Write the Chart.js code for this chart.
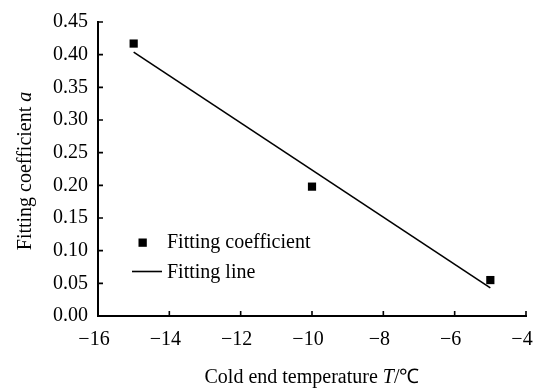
<!DOCTYPE html>
<html>
<head>
<meta charset="utf-8">
<script src="https://cdn.jsdelivr.net/npm/chart.js@4.4.1/dist/chart.umd.min.js"></script>
<style>
  html,body{margin:0;padding:0;background:#fff;}
  #wrap{width:535px;height:389px;}
</style>
</head>
<body>
<div id="wrap"><canvas id="c"></canvas></div>
<script>
// measured coefficient a at each cold end temperature
const temps = [-15, -10, -5];
const coefA = [0.417, 0.198, 0.055];
// least-squares line, endpoints
const fitX = [-15, -5];
const fitY = [0.404, 0.043];

const xTicks = [-16, -14, -12, -10, -8, -6, -4];
const yTicks = [0, 0.05, 0.10, 0.15, 0.20, 0.25, 0.30, 0.35, 0.40, 0.45];

const FONT = '"Liberation Serif","Times New Roman",serif';
const FS = 20;
const minus = s => String(s).replace('-', '\u2212');

// short tick marks pointing into the plot
const innerTicks = {
  id: 'innerTicks',
  afterDraw(chart){
    const {ctx, chartArea:a, scales:{x, y}} = chart;
    ctx.save();
    ctx.strokeStyle = '#000'; ctx.lineWidth = 1.6;
    ctx.beginPath();
    xTicks.forEach(v => { const px = x.getPixelForValue(v); ctx.moveTo(px, a.bottom); ctx.lineTo(px, a.bottom - 5); });
    yTicks.forEach(v => { const py = y.getPixelForValue(v); ctx.moveTo(a.left, py); ctx.lineTo(a.left + 5, py); });
    ctx.stroke();
    ctx.restore();
  }
};

// axis titles with italic symbols
function mixedText(ctx, parts, x, y){
  const setFont = it => { ctx.font = (it ? 'italic ' : '') + FS + 'px ' + FONT; };
  let w = 0;
  parts.forEach(p => { setFont(p[1]); w += ctx.measureText(p[0]).width; });
  let cx = x - w / 2;
  parts.forEach(p => {
    setFont(p[1]);
    ctx.fillText(p[0], cx, y);
    cx += ctx.measureText(p[0]).width;
  });
}
const axisTitles = {
  id: 'axisTitles',
  afterDraw(chart){
    const {ctx, chartArea:a} = chart;
    ctx.save();
    ctx.fillStyle = '#000'; ctx.textBaseline = 'alphabetic'; ctx.textAlign = 'left';
    mixedText(ctx, [['Cold end temperature ', false], ['T', true], ['/\u2103', false]], (a.left + a.right) / 2, 383);
    ctx.translate(31, (a.top + a.bottom) / 2 + 2);
    ctx.rotate(-Math.PI / 2);
    mixedText(ctx, [['Fitting coefficient ', false], ['a', true]], 0, 0);
    ctx.restore();
  }
};

// legend inside the plot area
const innerLegend = {
  id: 'innerLegend',
  afterDraw(chart){
    const ctx = chart.ctx;
    const ds = chart.data.datasets;
    ctx.save();
    ctx.fillStyle = '#000'; ctx.font = FS + 'px ' + FONT;
    ctx.textBaseline = 'alphabetic'; ctx.textAlign = 'left';
    // square marker
    ctx.fillRect(138.5, 238.5, 8.3, 8.3);
    ctx.fillText(ds[0].label, 167, 248);
    // line sample
    ctx.strokeStyle = '#000'; ctx.lineWidth = 1.6;
    ctx.beginPath(); ctx.moveTo(132, 271.5); ctx.lineTo(162, 271.5); ctx.stroke();
    ctx.fillText(ds[1].label, 167, 277.5);
    ctx.restore();
  }
};

new Chart(document.getElementById('c'), {
  type: 'scatter',
  data: {
    datasets: [
      {
        label: 'Fitting coefficient',
        data: temps.map((t, i) => ({x: t, y: coefA[i]})),
        pointStyle: 'rect', pointRadius: 5.8, pointHoverRadius: 5.8,
        backgroundColor: '#000', borderColor: '#000', borderWidth: 0,
        showLine: false
      },
      {
        label: 'Fitting line',
        data: fitX.map((t, i) => ({x: t, y: fitY[i]})),
        showLine: true, pointRadius: 0, pointHoverRadius: 0,
        borderColor: '#000', borderWidth: 1.6, fill: false
      }
    ]
  },
  options: {
    responsive: true, maintainAspectRatio: false, animation: false,
    layout: {padding: {left: 0, right: 9, top: 22, bottom: 0}},
    plugins: {legend: {display: false}, tooltip: {enabled: false}},
    scales: {
      x: {
        type: 'linear', min: -16, max: -4,
        afterBuildTicks: s => { s.ticks = xTicks.map(v => ({value: v})); },
        afterFit: s => { s.height = 73; s.paddingLeft = 0; s.paddingRight = 0; },
        grid: {display: true, drawOnChartArea: false, drawTicks: false},
        border: {display: true, color: '#000', width: 2},
        ticks: {color: '#000', padding: 12, labelOffset: -4, maxRotation: 0, autoSkip: false,
          font: {family: FONT, size: FS}, callback: v => minus(v)}
      },
      y: {
        type: 'linear', min: 0, max: 0.45,
        afterBuildTicks: s => { s.ticks = yTicks.map(v => ({value: v})); },
        afterFit: s => { s.width = 98; },
        grid: {display: true, drawOnChartArea: false, drawTicks: false},
        border: {display: true, color: '#000', width: 2},
        ticks: {color: '#000', padding: 10, autoSkip: false,
          font: {family: FONT, size: FS}, callback: v => v.toFixed(2)}
      }
    }
  },
  plugins: [innerTicks, axisTitles, innerLegend]
});
</script>
</body>
</html>
